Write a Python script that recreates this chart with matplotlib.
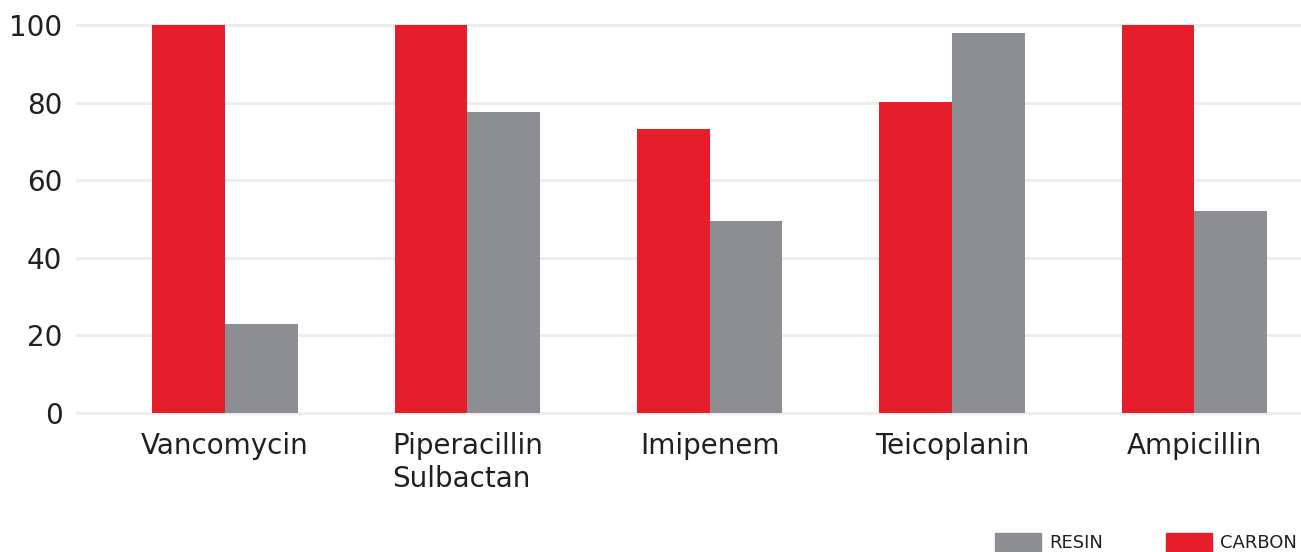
import matplotlib
matplotlib.use("Agg")
import matplotlib.pyplot as plt
import numpy as np
from matplotlib.patches import Rectangle

categories = ["Vancomycin", "Piperacillin\nSulbactan", "Imipenem", "Teicoplanin", "Ampicillin"]
carbon = [100, 100, 73.2, 80.2, 100]
resin = [23, 77.6, 49.5, 97.9, 52]
yticks = [0, 20, 40, 60, 80, 100]
legend_labels = ["RESIN", "CARBON"]

RED = "#E61E2B"
GREY = "#8D8E92"
TXT = "#231F20"

plt.rcParams['font.family'] = ['DejaVu Sans']

W, H = 1301, 552
fig = plt.figure(figsize=(W/100, H/100), dpi=100)
ax = fig.add_axes([77/W, 1-413/H, 1-77/W, (413-25)/H])

x = np.arange(len(categories))
w = 0.30
ax.bar(x - w/2, carbon, width=w, color=RED, zorder=3, clip_on=False)
ax.bar(x + w/2, resin, width=w, color=GREY, zorder=3, clip_on=False)

ax.set_xlim(-0.61, 4.44)
ax.set_ylim(0, 100)
ax.set_yticks(yticks)
ax.set_yticklabels([str(v) for v in yticks], fontsize=20, color=TXT)
ax.yaxis.grid(True, color="#EDEDED", linewidth=2.2, zorder=0)
for gl in ax.get_ygridlines():
    gl.set_clip_on(False)
ax.set_axisbelow(True)
for s in ax.spines.values():
    s.set_visible(False)
ax.tick_params(axis='y', length=0, pad=10.5)
ax.tick_params(axis='x', length=0, pad=14)
ax.set_xticks(x)
ax.set_xticklabels(categories, fontsize=20, color=TXT, multialignment='left', linespacing=1.2)

# legend (bottom right, partly cut off as in the reference)
leg_colors = [GREY, RED]
leg_x = [995, 1166]
for lx, col, lab in zip(leg_x, leg_colors, legend_labels):
    fig.patches.append(Rectangle((lx/W, 0), 46/W, 19/H, transform=fig.transFigure,
                                 color=col, figure=fig))
    fig.text((lx + 54)/W, 1 - 543/H, lab, fontsize=13, color=TXT, va='center', ha='left')

fig.savefig("out.png", dpi=100)
